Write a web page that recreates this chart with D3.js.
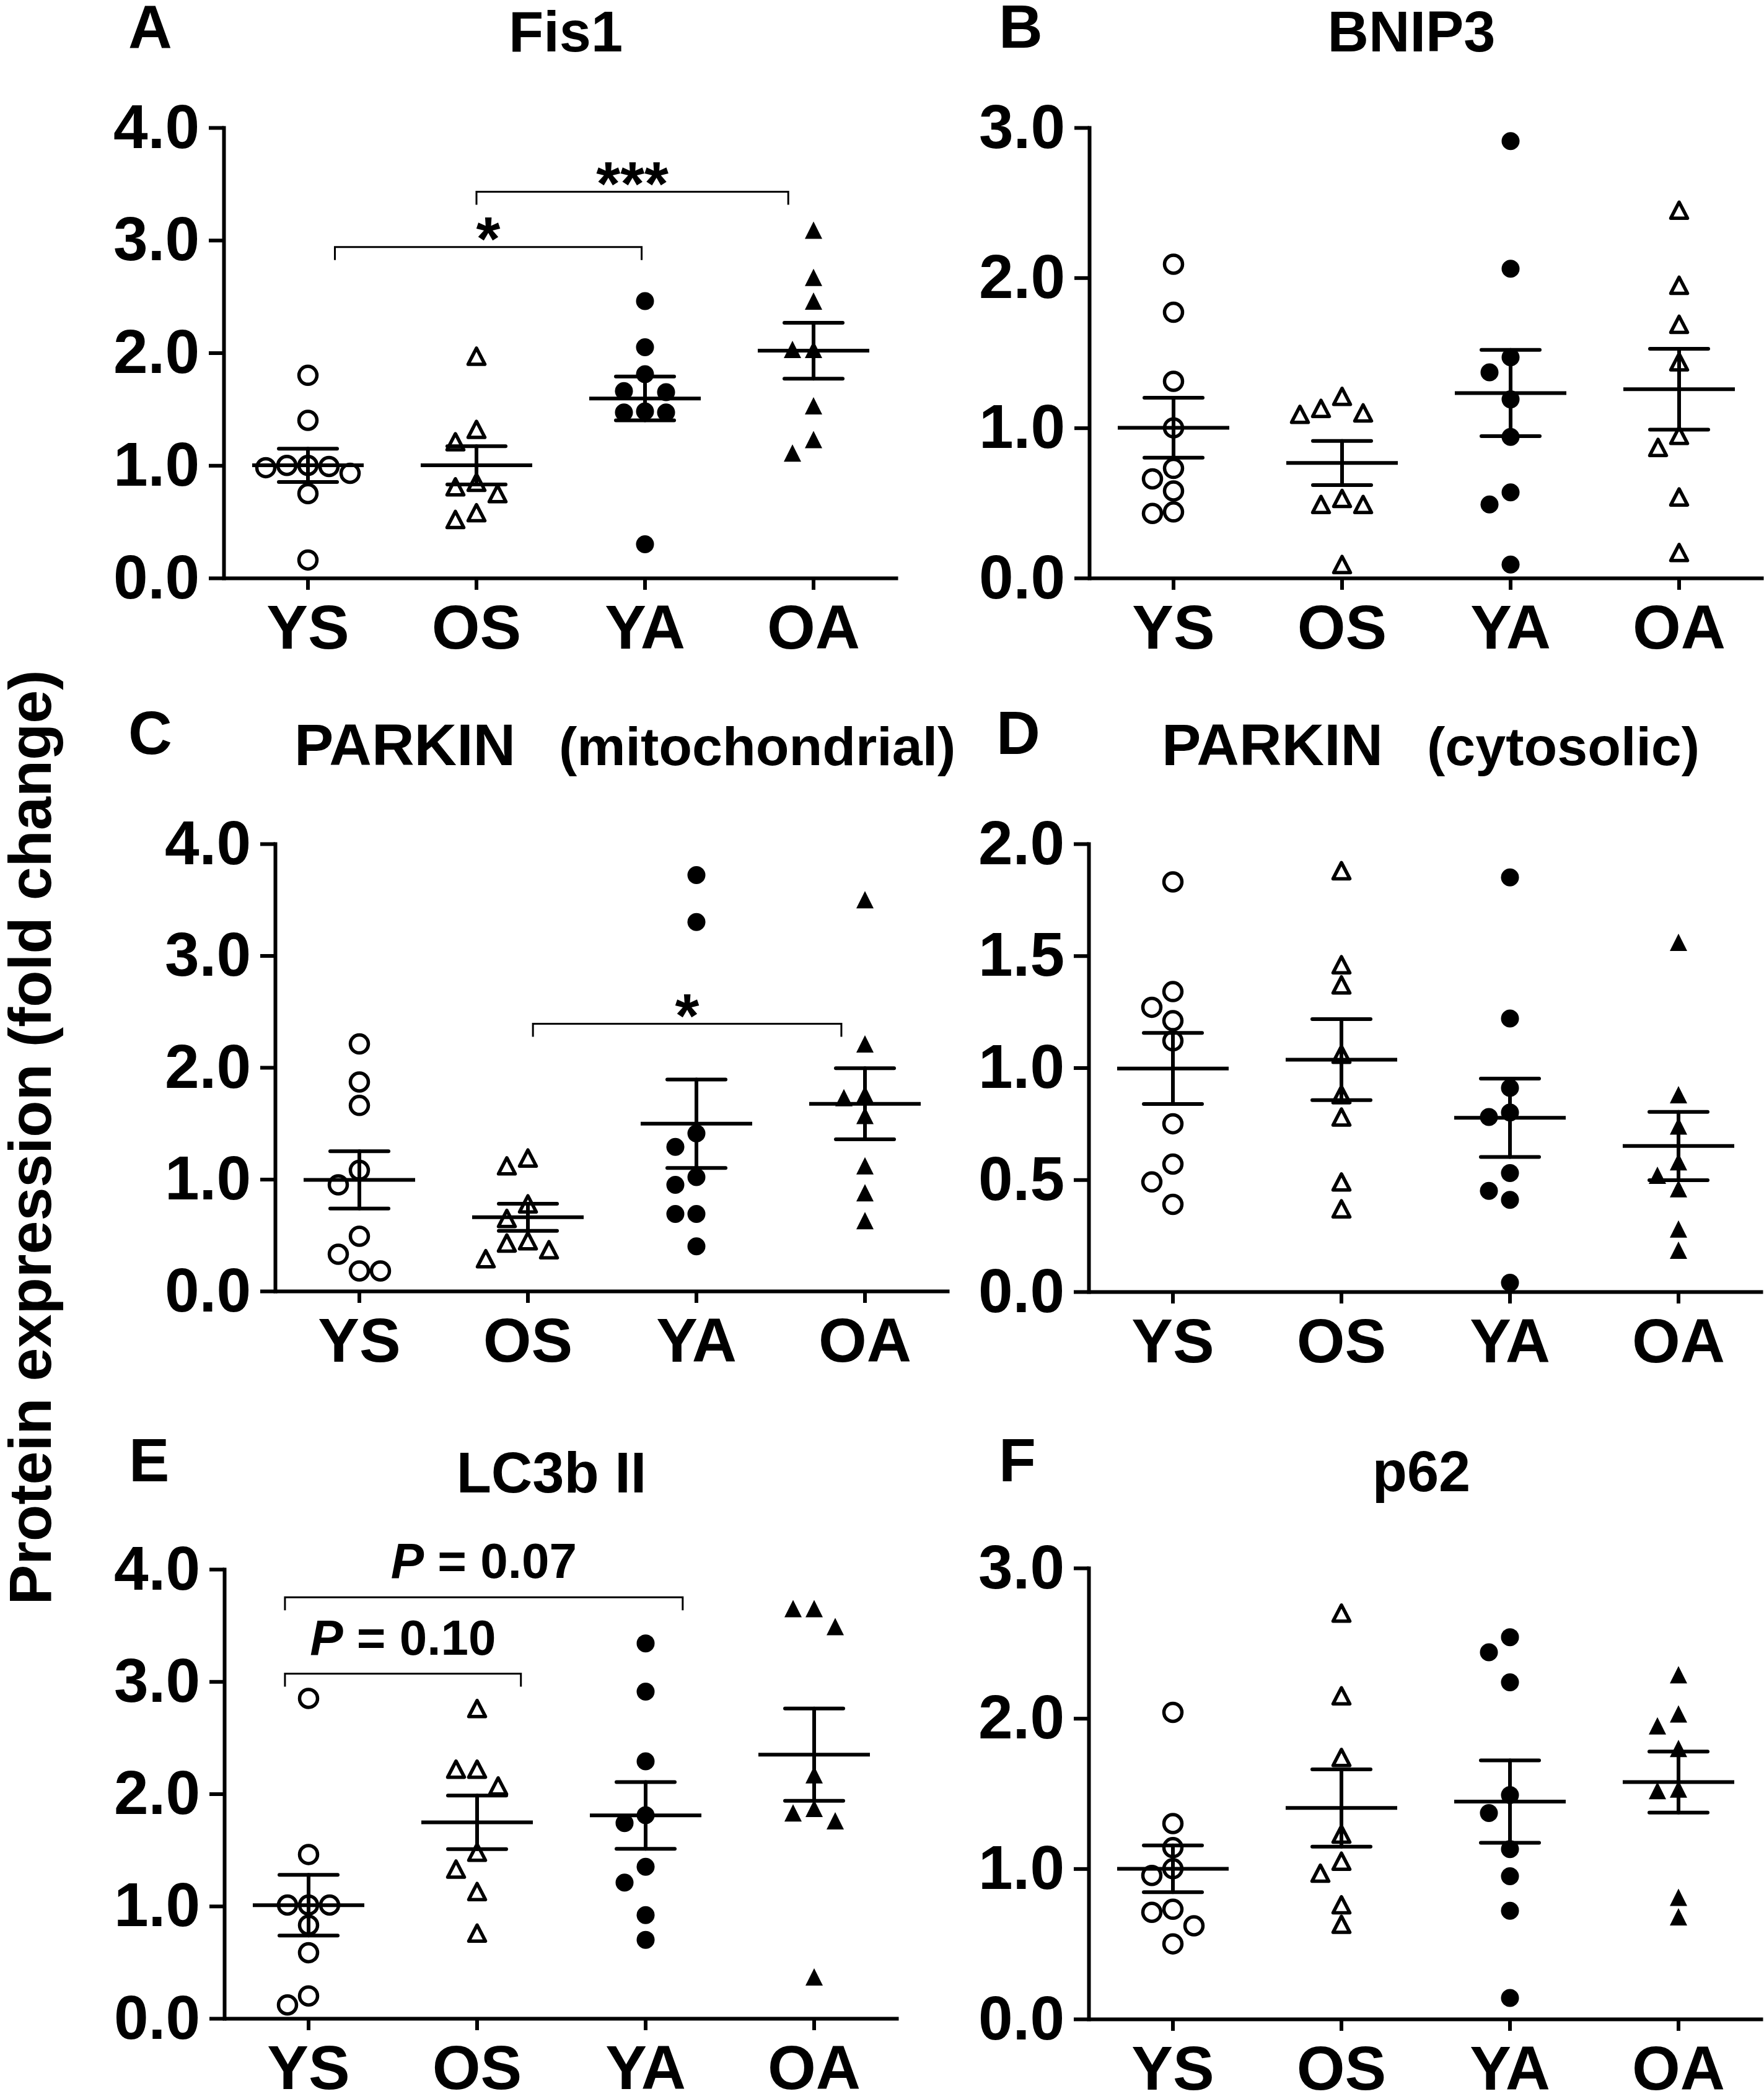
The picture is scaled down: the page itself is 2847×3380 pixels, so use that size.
<!DOCTYPE html>
<html>
<head>
<meta charset="utf-8">
<script src="https://cdn.jsdelivr.net/npm/d3@7"></script>
<style>
  body { margin: 0; background: #fff; }
  svg { display: block; }
</style>
</head>
<body>
<div id="chart"></div>
<script>
// groups on the x axis
const groups = ["YS", "OS", "YA", "OA"];

// values per panel, one array per group (YS, OS, YA, OA)
const fis1 = [
  [1.80, 1.40, 1.00, 1.00, 0.99, 0.98, 0.93, 0.75, 0.16],
  [1.97, 1.32, 1.21, 0.85, 0.81, 0.75, 0.58, 0.52],
  [2.46, 2.05, 1.81, 1.66, 1.65, 1.48, 1.47, 1.47, 0.30],
  [3.09, 2.67, 2.46, 2.03, 2.03, 1.53, 1.23, 1.11]
];
const bnip3 = [
  [2.09, 1.77, 1.31, 1.00, 0.73, 0.66, 0.58, 0.44, 0.43],
  [1.21, 1.13, 1.10, 1.09, 0.53, 0.49, 0.49, 0.09],
  [2.91, 2.06, 1.47, 1.37, 1.19, 0.94, 0.57, 0.49, 0.09],
  [2.45, 1.95, 1.69, 1.44, 0.95, 0.87, 0.54, 0.17]
];
const parkinMito = [
  [2.21, 1.87, 1.66, 1.08, 0.95, 0.49, 0.33, 0.18, 0.18],
  [1.19, 1.12, 0.78, 0.65, 0.45, 0.43, 0.37, 0.29],
  [3.72, 3.30, 1.41, 1.29, 1.02, 0.95, 0.69, 0.69, 0.40],
  [3.50, 2.21, 1.76, 1.73, 1.57, 1.12, 0.88, 0.63]
];
const parkinCyto = [
  [1.83, 1.34, 1.27, 1.21, 1.12, 0.75, 0.57, 0.49, 0.39],
  [1.88, 1.46, 1.37, 1.06, 0.88, 0.78, 0.49, 0.37],
  [1.85, 1.22, 0.91, 0.80, 0.78, 0.53, 0.45, 0.41, 0.04],
  [1.56, 0.88, 0.74, 0.58, 0.52, 0.46, 0.28, 0.185]
];
const lc3b = [
  [2.85, 1.46, 1.01, 1.01, 1.01, 0.83, 0.585, 0.20, 0.12],
  [2.76, 2.22, 2.22, 2.07, 1.48, 1.33, 1.13, 0.76],
  [3.34, 2.91, 2.29, 1.81, 1.74, 1.35, 1.21, 0.92, 0.70],
  [3.65, 3.65, 3.49, 2.17, 1.87, 1.83, 1.76, 0.37]
];
const p62 = [
  [2.04, 1.30, 1.14, 1.00, 0.955, 0.73, 0.71, 0.62, 0.50],
  [2.70, 2.15, 1.74, 1.23, 1.05, 0.97, 0.76, 0.63],
  [2.54, 2.44, 2.24, 1.49, 1.37, 1.13, 0.95, 0.72, 0.14],
  [2.29, 2.03, 1.95, 1.80, 1.53, 1.52, 0.81, 0.68]
];

const panelData = [fis1, bnip3, parkinMito, parkinCyto, lc3b, p62];
const panelLetters = ["A", "B", "C", "D", "E", "F"];
const panelTitles = [["Fis1"], ["BNIP3"], ["PARKIN", "(mitochondrial)"], ["PARKIN", "(cytosolic)"], ["LC3b II"], ["p62"]];
const yMax = [4, 3, 4, 2, 4, 3];
const yStep = [1, 1, 1, 0.5, 1, 1];
const yLabel = "Protein expression (fold change)";

// significance brackets: x in group-index units, y in data units
const brackets = [
  { panel: 0, x1: 0.16, x2: 1.98, y: 2.94, label: "*" },
  { panel: 0, x1: 1.0, x2: 2.85, y: 3.43, label: "***" },
  { panel: 2, x1: 1.03, x2: 2.86, y: 2.39, label: "*" },
  { panel: 4, x1: -0.14, x2: 2.22, y: 3.75, label: "P = 0.07" },
  { panel: 4, x1: -0.14, x2: 1.26, y: 3.07, label: "P = 0.10" }
];

// layout (pixels)
const W = 2847, H = 3380;
const plotW = 1088;
const layout = [
  { x0: 361, top: 206, zero: 933 },
  { x0: 1758, top: 206, zero: 933 },
  { x0: 444, top: 1362, zero: 2084 },
  { x0: 1757, top: 1362, zero: 2085 },
  { x0: 362, top: 2533, zero: 3258 },
  { x0: 1757, top: 2531, zero: 3259 }
];
const letterPos = [[207, 77], [1612, 77], [207, 1217], [1608, 1217], [208, 2391], [1612, 2391]];
const titlePos = [
  { x: 913, y: 83, anchor: "middle" },
  { x: 2278, y: 83, anchor: "middle" },
  { x: 475, y: 1235, anchor: "start", x2: 902 },
  { x: 1875, y: 1235, anchor: "start", x2: 2303 },
  { x: 890, y: 2409, anchor: "middle" },
  { x: 2294, y: 2407, anchor: "middle" }
];
// marker per group: [shape, filled]
const markerStyle = [
  [["circle", false], ["triangle", false], ["circle", true], ["triangle", true]],
  [["circle", false], ["triangle", false], ["circle", true], ["triangle", false]],
  [["circle", false], ["triangle", false], ["circle", true], ["triangle", true]],
  [["circle", false], ["triangle", false], ["circle", true], ["triangle", true]],
  [["circle", false], ["triangle", false], ["circle", true], ["triangle", true]],
  [["circle", false], ["triangle", false], ["circle", true], ["triangle", true]]
];

const FONT = "'Liberation Sans', Arial, Helvetica, sans-serif";

const svg = d3.select("#chart").append("svg")
  .attr("width", W)
  .attr("height", H)
  .attr("viewBox", `0 0 ${W} ${H}`)
  .style("font-family", FONT)
  .style("font-weight", "bold");

svg.append("rect").attr("width", W).attr("height", H).attr("fill", "#fff");

// simple column swarm: same column collides if closer than minDist
function swarm(vals, y, step, minDist) {
  const order = vals.map((v, i) => i).sort((a, b) => vals[b] - vals[a]);
  const placed = [];
  const out = new Array(vals.length).fill(0);
  order.forEach(i => {
    const py = y(vals[i]);
    for (let k = 0; k < 10; k++) {
      const cands = k === 0 ? [0] : [-k * step, k * step];
      const ok = cands.find(cx => placed.every(p => Math.hypot(p.x - cx, p.y - py) >= minDist));
      if (ok !== undefined) {
        out[i] = ok;
        placed.push({ x: ok, y: py });
        return;
      }
    }
  });
  return out;
}

const triFilled = "M0,-14L14,14L-14,14Z";
const triOpen = "M0,-13L13.5,13L-13.5,13Z";

panelData.forEach((data, p) => {
  const L = layout[p];
  const g = svg.append("g");

  const x = d3.scaleBand().domain(groups).range([L.x0, L.x0 + plotW]).padding(0);
  const xi = d3.scaleLinear().domain([0, 1]).range([L.x0 + x.bandwidth() / 2, L.x0 + x.bandwidth() * 1.5]);
  const y = d3.scaleLinear().domain([0, yMax[p]]).range([L.zero, L.top]);

  // y axis
  const ticks = d3.range(0, yMax[p] + 1e-9, yStep[p]);
  const ya = g.append("g")
    .attr("transform", `translate(${L.x0},0)`)
    .call(d3.axisLeft(y).tickValues(ticks).tickFormat(d3.format(".1f"))
      .tickSize(24).tickSizeOuter(0).tickPadding(15));
  ya.select(".domain").attr("stroke-width", 6).attr("stroke-linecap", "square");
  ya.selectAll(".tick line").attr("stroke-width", 6);
  ya.selectAll(".tick text")
    .attr("font-size", 100).attr("font-family", FONT).attr("font-weight", "bold").attr("fill", "#000");
  ya.attr("font-size", null).attr("font-family", null);

  // x axis
  const xa = g.append("g")
    .attr("transform", `translate(0,${L.zero})`)
    .call(d3.axisBottom(x).tickSize(19).tickSizeOuter(0).tickPadding(24));
  xa.select(".domain").attr("stroke-width", 6);
  xa.selectAll(".tick line").attr("stroke-width", 6);
  xa.selectAll(".tick text")
    .attr("font-size", 100).attr("font-family", FONT).attr("font-weight", "bold").attr("fill", "#000");
  xa.attr("font-size", null).attr("font-family", null);

  // points
  data.forEach((vals, gi) => {
    const cx = x(groups[gi]) + x.bandwidth() / 2;
    const offs = swarm(vals, y, 34, 31);
    const [shape, filled] = markerStyle[p][gi];
    const pts = g.append("g");
    vals.forEach((v, i) => {
      const px = cx + offs[i], py = y(v);
      if (shape === "circle") {
        pts.append("circle")
          .attr("cx", px).attr("cy", py)
          .attr("r", filled ? 14.5 : 14.5)
          .attr("fill", filled ? "#000" : "none")
          .attr("stroke", filled ? "none" : "#000")
          .attr("stroke-width", 5.5);
      } else {
        pts.append("path")
          .attr("d", filled ? triFilled : triOpen)
          .attr("transform", `translate(${px},${py})`)
          .attr("fill", filled ? "#000" : "none")
          .attr("stroke", filled ? "none" : "#000")
          .attr("stroke-width", 5.5)
          .attr("stroke-linejoin", "round");
      }
    });

    // mean and SEM
    const m = d3.mean(vals);
    const sem = d3.deviation(vals) / Math.sqrt(vals.length);
    const eb = g.append("g").attr("stroke", "#000").attr("stroke-width", 6).attr("stroke-linecap", "round");
    eb.append("line").attr("x1", cx - 90).attr("x2", cx + 90).attr("y1", y(m)).attr("y2", y(m))
      .attr("stroke-linecap", "butt");
    eb.append("line").attr("x1", cx).attr("x2", cx).attr("y1", y(m + sem)).attr("y2", y(m - sem));
    [m + sem, m - sem].forEach(v => {
      eb.append("line").attr("x1", cx - 47).attr("x2", cx + 47).attr("y1", y(v)).attr("y2", y(v));
    });
  });

  // brackets
  brackets.filter(b => b.panel === p).forEach(b => {
    const x1 = xi(b.x1), x2 = xi(b.x2), by = y(b.y);
    g.append("path")
      .attr("d", `M${x1},${by + 21}V${by}H${x2}V${by + 21}`)
      .attr("fill", "none").attr("stroke", "#000").attr("stroke-width", 3);
    const mid = (x1 + x2) / 2;
    if (b.label.startsWith("*")) {
      g.append("text").attr("x", mid).attr("y", by + 21)
        .attr("text-anchor", "middle").attr("font-size", 100).text(b.label);
    } else {
      const t = g.append("text").attr("x", mid).attr("y", by - 31)
        .attr("text-anchor", "middle").attr("font-size", 80);
      t.append("tspan").attr("font-style", "italic").text(b.label.slice(0, 1));
      t.append("tspan").text(b.label.slice(1));
    }
  });

  // panel letter
  svg.append("text").attr("x", letterPos[p][0]).attr("y", letterPos[p][1])
    .attr("font-size", 98).text(panelLetters[p]);

  // title
  const T = titlePos[p];
  const parts = panelTitles[p];
  if (parts.length === 1) {
    svg.append("text").attr("x", T.x).attr("y", T.y).attr("text-anchor", T.anchor)
      .attr("font-size", 92).text(parts[0]);
  } else {
    svg.append("text").attr("x", T.x).attr("y", T.y).attr("font-size", 95).text(parts[0]);
    svg.append("text").attr("x", T.x2).attr("y", T.y).attr("font-size", 88).text(parts[1]);
  }
});

// shared y label
svg.append("text")
  .attr("transform", "translate(82,1836) rotate(-90)")
  .attr("text-anchor", "middle")
  .attr("font-size", 97)
  .text(yLabel);
</script>
</body>
</html>
